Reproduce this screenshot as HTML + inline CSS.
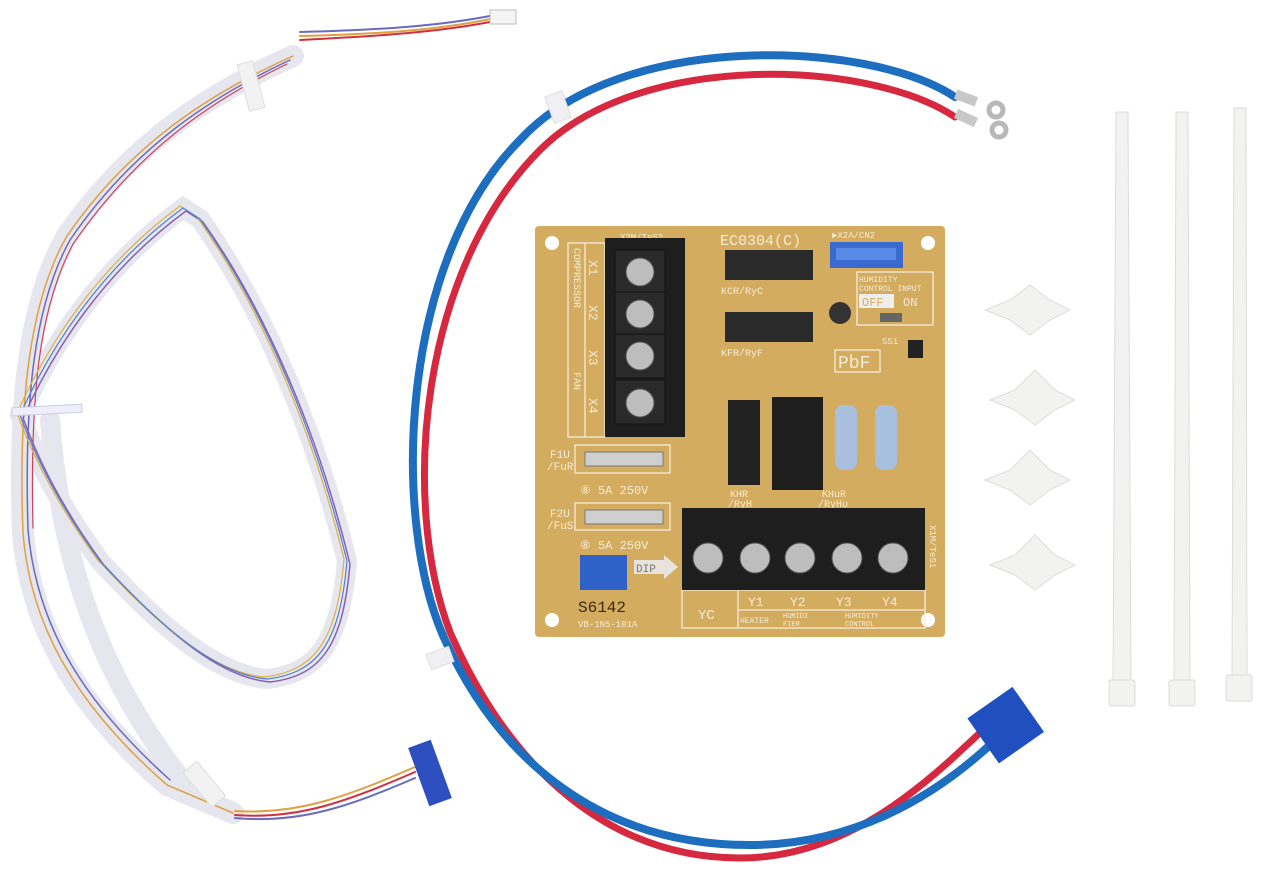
<!DOCTYPE html>
<html><head><meta charset="utf-8"><style>
html,body{margin:0;padding:0;background:#fff;}
svg{display:block;}
text{font-family:"Liberation Mono",monospace;fill:#f4ecd8;}
</style></head><body>
<svg width="1280" height="875" viewBox="0 0 1280 875" xmlns="http://www.w3.org/2000/svg">
<rect width="1280" height="875" fill="#fff"/>

<!-- Left harness -->
<g fill="none" stroke-linecap="round">
  <path d="M293,56 C217,90 133,140 67,236 C30,300 18,400 23,533 C30,620 70,700 167,785 L233,813" stroke="#e6e6ee" stroke-width="22"/>
  <path d="M20,415 C50,348 100,269 183,208 L200,219 C267,314 317,438 347,561 C340,640 320,673 267,679 C220,675 167,634 100,561 C70,520 40,470 20,415 Z" stroke="#e6e6ee" stroke-width="20"/>
  <path d="M50,420 C60,560 100,680 190,790" stroke="#e6e6ee" stroke-width="20"/>
  <path d="M293,56 C217,90 133,140 67,236 C30,300 18,400 23,533 C30,620 70,700 167,785 L233,813" stroke="#e0a040" stroke-width="1.5"/>
  <path d="M290,60 C215,95 135,145 70,240 C34,305 24,400 28,530 C36,618 75,695 170,780" stroke="#6a6ac0" stroke-width="1.5"/>
  <path d="M287,64 C212,100 138,150 73,244 C38,310 30,400 33,528" stroke="#d04060" stroke-width="1.2"/>
  <path d="M20,415 C50,348 100,269 183,208 L200,219 C267,314 317,438 347,561 C340,640 320,673 267,679 C220,675 167,634 100,561 C70,520 40,470 20,415 Z" stroke="#8a60b0" stroke-width="1.5" transform="translate(3,3)"/>
  <path d="M20,415 C50,348 100,269 183,208 L200,219 C267,314 317,438 347,561 C340,640 320,673 267,679 C220,675 167,634 100,561 C70,520 40,470 20,415 Z" stroke="#e0b040" stroke-width="1.2" transform="translate(-3,-2)"/>
  <path d="M20,415 C50,348 100,269 183,208 L200,219 C267,314 317,438 347,561 C340,640 320,673 267,679 C220,675 167,634 100,561 C70,520 40,470 20,415 Z" stroke="#5080d0" stroke-width="1.2"/>
  <!-- thin wires -->
  <path d="M300,36 C380,34 440,30 495,18" stroke="#e0a040" stroke-width="2"/>
  <path d="M300,40 C380,36 440,32 495,21" stroke="#d03040" stroke-width="2"/>
  <path d="M300,32 C380,30 440,26 495,15" stroke="#6a6ac0" stroke-width="2"/>
  <path d="M235,815 C300,820 350,800 415,772" stroke="#d03040" stroke-width="2"/>
  <path d="M235,811 C300,815 350,795 415,767" stroke="#e0a040" stroke-width="2"/>
  <path d="M235,818 C300,824 350,806 415,778" stroke="#6a6ac0" stroke-width="2"/>
</g>
<rect x="490" y="10" width="26" height="14" fill="#f4f4f4" stroke="#bbb"/>
<rect x="243" y="62" width="16" height="48" fill="#f2f2f2" stroke="#ddd" transform="rotate(-15 251 86)"/>
<rect x="12" y="406" width="70" height="8" fill="#eef" stroke="#ccd" transform="rotate(-3 47 410)"/>
<rect x="195" y="762" width="18" height="45" fill="#f2f2f2" stroke="#ddd" transform="rotate(-40 204 784)"/>
<rect x="418" y="742" width="24" height="62" fill="#2d4fc0" transform="rotate(-20 430 773)"/>

<!-- Blue / red cable -->
<g fill="none" stroke-linecap="round">
  <path d="M955,117 C870,60 640,50 540,150 C420,270 400,500 450,632 C510,770 610,858 740,858 C850,858 930,780 985,728" stroke="#d6283e" stroke-width="7"/>
  <path d="M955,97 C870,40 620,30 520,140 C400,260 390,520 445,640 C500,760 600,845 750,845 C850,845 930,800 990,745" stroke="#1e6ec0" stroke-width="8"/>
</g>
<g fill="none" stroke="#b8b8b8" stroke-width="5">
  <circle cx="996" cy="110" r="7"/><circle cx="999" cy="130" r="7"/>
</g>
<rect x="955" y="93" width="22" height="10" fill="#c8c8c8" transform="rotate(20 966 98)"/>
<rect x="955" y="113" width="22" height="10" fill="#c8c8c8" transform="rotate(25 966 118)"/>
<rect x="549" y="93" width="18" height="28" fill="#f0f0f4" stroke="#ddd" transform="rotate(-20 558 107)"/>
<rect x="428" y="650" width="24" height="16" fill="#f0f0f4" stroke="#ddd" transform="rotate(-20 440 658)"/>
<rect x="978" y="698" width="55" height="55" fill="#2050c0" transform="rotate(-35 1005 725)"/>

<!-- Board -->
<rect x="535" y="226" width="410" height="411" rx="4" fill="#d4ac60"/>
<circle cx="552" cy="243" r="7" fill="#fff"/><circle cx="928" cy="243" r="7" fill="#fff"/>
<circle cx="552" cy="620" r="7" fill="#fff"/><circle cx="928" cy="620" r="7" fill="#fff"/>
<g fill="none" stroke="#f4ecd8" stroke-width="1.3">
  <rect x="568" y="243" width="37" height="194"/>
  <line x1="585" y1="243" x2="585" y2="437"/>
  <rect x="575" y="445" width="95" height="28"/>
  <rect x="575" y="503" width="95" height="27"/>
  <rect x="857" y="272" width="76" height="53"/>
  <rect x="682" y="590" width="243" height="38"/>
  <line x1="738" y1="590" x2="738" y2="628"/>
  <line x1="738" y1="610" x2="925" y2="610"/>
  <rect x="835" y="350" width="45" height="22"/>
</g>
<text x="620" y="240" font-size="9">X2M/TeS2</text>
<text x="720" y="245" font-size="15">EC0304(C)</text>
<text x="832" y="238" font-size="9">►X2A/CN2</text>
<text x="721" y="294" font-size="10">KCR/RyC</text>
<text x="721" y="356" font-size="10">KFR/RyF</text>
<text x="859" y="282" font-size="8">HUMIDITY</text>
<text x="859" y="291" font-size="8">CONTROL INPUT</text>
<rect x="859" y="294" width="35" height="14" fill="#eee"/>
<text x="862" y="306" font-size="12" style="fill:#d4ac60">OFF</text>
<text x="903" y="306" font-size="12">ON</text>
<rect x="880" y="313" width="22" height="9" fill="#666"/>
<text x="838" y="368" font-size="18">PbF</text>
<text x="882" y="344" font-size="9">SS1</text>
<rect x="908" y="340" width="15" height="18" fill="#222"/>
<text x="550" y="458" font-size="11">F1U</text><text x="547" y="470" font-size="11">/FuR</text>
<text x="550" y="517" font-size="11">F2U</text><text x="547" y="529" font-size="11">/FuS</text>
<text x="580" y="494" font-size="12">⑧ 5A 250V</text>
<text x="580" y="549" font-size="12">⑧ 5A 250V</text>
<text x="730" y="497" font-size="10">KHR</text><text x="728" y="507" font-size="10">/RyH</text>
<text x="822" y="497" font-size="10">KHuR</text><text x="818" y="507" font-size="10">/RyHu</text>
<text x="578" y="612" font-size="16" style="fill:#3a2a10">S6142</text>
<text x="578" y="627" font-size="9">VB-1N5-101A</text>
<text x="698" y="619" font-size="14">YC</text>
<text x="748" y="606" font-size="13">Y1</text><text x="790" y="606" font-size="13">Y2</text>
<text x="836" y="606" font-size="13">Y3</text><text x="882" y="606" font-size="13">Y4</text>
<text x="740" y="623" font-size="8">HEATER</text><text x="783" y="618" font-size="7">HUMIDI</text><text x="783" y="626" font-size="7">FIER</text>
<text x="845" y="618" font-size="7">HUMIDITY</text><text x="845" y="626" font-size="7">CONTROL</text>
<g font-size="13">
<text x="0" y="0" transform="translate(574,248) rotate(90)" font-size="10">COMPRESSOR</text>
<text x="0" y="0" transform="translate(574,372) rotate(90)" font-size="10">FAN</text>
<text x="0" y="0" transform="translate(589,260) rotate(90)">X1</text>
<text x="0" y="0" transform="translate(589,305) rotate(90)">X2</text>
<text x="0" y="0" transform="translate(589,350) rotate(90)">X3</text>
<text x="0" y="0" transform="translate(589,398) rotate(90)">X4</text>
<text x="0" y="0" transform="translate(930,525) rotate(90)" font-size="9">X1M/TeS1</text>
</g>
<!-- DIP arrow -->
<path d="M634,560 L664,560 L664,555 L678,567 L664,579 L664,574 L634,574 Z" fill="#e8e4dc"/>
<text x="636" y="572" font-size="11" style="fill:#777">DIP</text>
<rect x="580" y="555" width="47" height="35" fill="#2e62c8"/>
<!-- top connector -->
<rect x="830" y="242" width="73" height="26" fill="#3a6ad0"/>
<rect x="836" y="248" width="60" height="12" fill="#5a8ae8"/>
<!-- left terminal block -->
<rect x="605" y="238" width="80" height="199" fill="#1e1e1e"/>
<g fill="#2a2a2a" stroke="#111">
<rect x="615" y="250" width="50" height="44"/><rect x="615" y="292" width="50" height="44"/>
<rect x="615" y="334" width="50" height="44"/><rect x="615" y="380" width="50" height="44"/>
</g>
<g fill="#bdbdbd" stroke="#555">
<circle cx="640" cy="272" r="14"/><circle cx="640" cy="314" r="14"/><circle cx="640" cy="356" r="14"/><circle cx="640" cy="403" r="14"/>
</g>
<!-- bottom terminal block -->
<rect x="682" y="508" width="243" height="82" fill="#1e1e1e"/>
<g fill="#bdbdbd" stroke="#555">
<circle cx="708" cy="558" r="15"/><circle cx="755" cy="558" r="15"/><circle cx="800" cy="558" r="15"/><circle cx="847" cy="558" r="15"/><circle cx="893" cy="558" r="15"/>
</g>
<!-- fuses -->
<rect x="585" y="452" width="78" height="14" fill="#cfcfcf" stroke="#777"/>
<rect x="585" y="510" width="78" height="14" fill="#cfcfcf" stroke="#777"/>
<!-- relays -->
<rect x="725" y="250" width="88" height="30" fill="#2a2a2a"/>
<rect x="725" y="312" width="88" height="30" fill="#2a2a2a"/>
<rect x="728" y="400" width="32" height="85" fill="#222"/>
<rect x="772" y="397" width="51" height="93" fill="#1e1e1e"/>
<!-- resistors -->
<rect x="835" y="405" width="22" height="65" rx="8" fill="#a8c0de"/>
<rect x="875" y="405" width="22" height="65" rx="8" fill="#a8c0de"/>
<circle cx="840" cy="313" r="11" fill="#333"/>

<!-- clips -->
<g fill="#f2f2f0" stroke="#ddd">
<path d="M985,310 L1010,300 L1030,285 L1050,300 L1070,310 L1050,320 L1030,335 L1010,320 Z"/>
<path d="M990,400 L1015,390 L1035,370 L1055,390 L1075,400 L1055,410 L1035,425 L1015,410 Z"/>
<path d="M985,480 L1010,470 L1030,450 L1050,470 L1070,480 L1050,490 L1030,505 L1010,490 Z"/>
<path d="M990,565 L1015,555 L1035,535 L1055,555 L1075,565 L1055,575 L1035,590 L1015,575 Z"/>
</g>
<!-- zip ties -->
<g fill="#f2f2f0" stroke="#dcdcdc">
<path d="M1116,112 L1128,112 L1131,680 L1113,680 Z"/><rect x="1109" y="680" width="26" height="26" rx="2"/>
<path d="M1176,112 L1188,112 L1190,680 L1174,680 Z"/><rect x="1169" y="680" width="26" height="26" rx="2"/>
<path d="M1234,108 L1246,108 L1247,675 L1232,675 Z"/><rect x="1226" y="675" width="26" height="26" rx="2"/>
</g>
</svg>
</body></html>
